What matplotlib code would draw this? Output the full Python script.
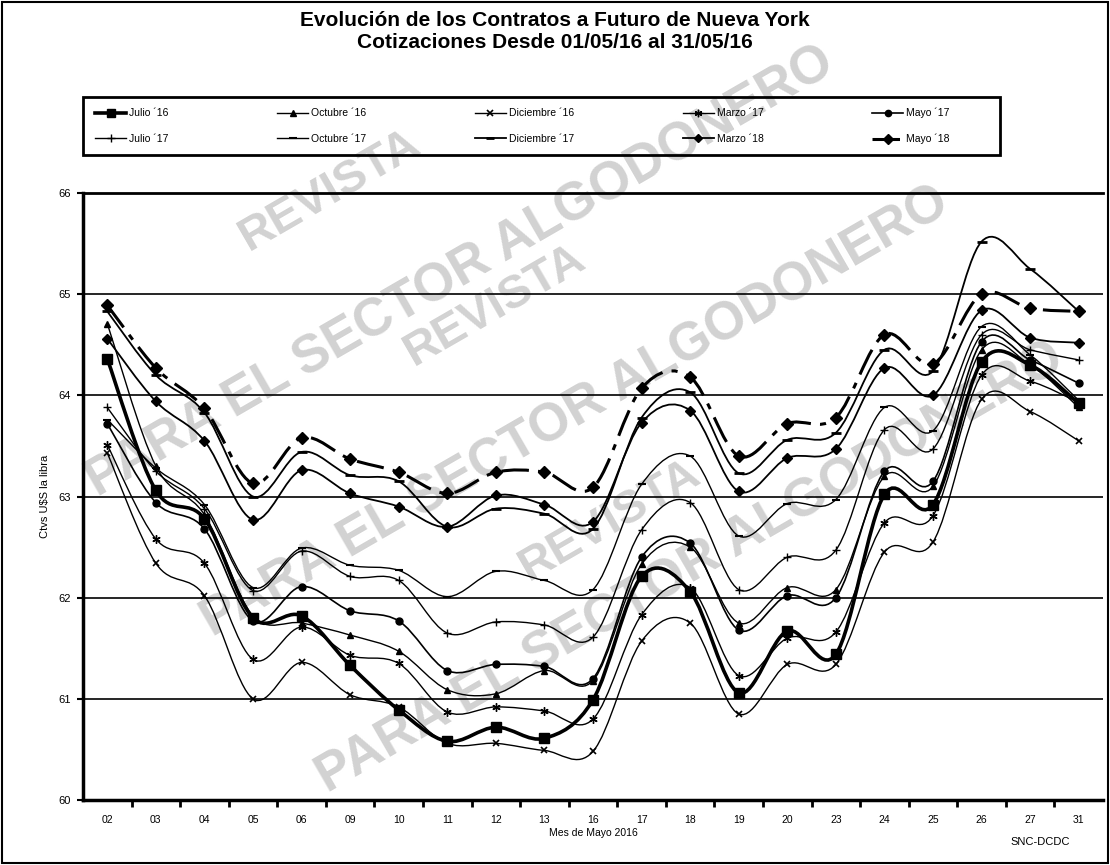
import numpy as np
import matplotlib
matplotlib.use("Agg")
import matplotlib.pyplot as plt
from matplotlib.path import Path
from matplotlib.patches import PathPatch, Rectangle
from matplotlib.lines import Line2D

plt.rcParams['font.family'] = ['Liberation Sans', 'DejaVu Sans']

# dias de rueda de mayo 2016
dias = ["02", "03", "04", "05", "06", "09", "10", "11", "12", "13", "16",
        "17", "18", "19", "20", "23", "24", "25", "26", "27", "31"]

# cotizaciones (ctvs U$S / libra)
julio_16 = [64.36, 63.06, 62.78, 61.80, 61.82, 61.33, 60.89, 60.58, 60.72, 60.61, 60.99,
            62.21, 62.06, 61.06, 61.67, 61.44, 63.02, 62.92, 64.33, 64.30, 63.92]
octubre_16 = [64.71, 63.30, 62.82, 61.82, 61.75, 61.63, 61.47, 61.09, 61.05, 61.28, 61.18,
              62.33, 62.50, 61.75, 62.10, 62.08, 63.20, 63.10, 64.45, 64.30, 63.88]
diciembre_16 = [63.43, 62.34, 62.02, 61.00, 61.36, 61.04, 60.92, 60.56, 60.56, 60.49, 60.48,
                61.57, 61.75, 60.85, 61.34, 61.34, 62.45, 62.55, 63.96, 63.84, 63.55]
marzo_17 = [63.51, 62.58, 62.34, 61.39, 61.71, 61.43, 61.35, 60.87, 60.92, 60.88, 60.80,
            61.83, 62.10, 61.23, 61.60, 61.66, 62.74, 62.81, 64.20, 64.14, 63.93]
mayo_17 = [63.72, 62.94, 62.68, 61.77, 62.11, 61.87, 61.77, 61.28, 61.34, 61.32, 61.20,
           62.40, 62.54, 61.68, 62.02, 62.00, 63.25, 63.15, 64.53, 64.35, 64.12]
julio_17 = [63.88, 63.25, 62.88, 62.07, 62.46, 62.21, 62.17, 61.65, 61.76, 61.73, 61.61,
            62.67, 62.94, 62.08, 62.40, 62.47, 63.66, 63.47, 64.60, 64.45, 64.35]
octubre_17 = [63.76, 63.28, 62.92, 62.10, 62.49, 62.32, 62.27, 62.01, 62.26, 62.17, 62.08,
              63.12, 63.40, 62.61, 62.93, 62.97, 63.88, 63.65, 64.68, 64.40, 63.95]
diciembre_17 = [64.83, 64.20, 63.83, 63.00, 63.44, 63.21, 63.15, 62.70, 62.88, 62.83, 62.68,
                63.78, 64.03, 63.23, 63.56, 63.63, 64.45, 64.24, 65.52, 65.25, 64.83]
marzo_18 = [64.56, 63.94, 63.55, 62.77, 63.26, 63.03, 62.90, 62.70, 63.01, 62.92, 62.75,
            63.73, 63.85, 63.05, 63.38, 63.47, 64.27, 64.00, 64.84, 64.57, 64.52]
mayo_18 = [64.89, 64.27, 63.87, 63.13, 63.58, 63.37, 63.24, 63.03, 63.24, 63.24, 63.09,
           64.07, 64.18, 63.40, 63.72, 63.78, 64.60, 64.31, 65.00, 64.86, 64.83]

series = [
    ("Julio ´16", julio_16, dict(lw=2.6, marker='s', ms=7)),
    ("Octubre ´16", octubre_16, dict(lw=1.0, marker='^', ms=5)),
    ("Diciembre ´16", diciembre_16, dict(lw=1.0, marker='x', ms=5, mew=1.2)),
    ("Marzo ´17", marzo_17, dict(lw=1.0, marker=(6, 2, 0), ms=6, mew=1.0)),
    ("Mayo ´17", mayo_17, dict(lw=1.2, marker='o', ms=5)),
    ("Julio ´17", julio_17, dict(lw=1.0, marker='+', ms=6, mew=1.0)),
    ("Octubre ´17", octubre_17, dict(lw=1.0, marker='_', ms=6, mew=1.5)),
    ("Diciembre ´17", diciembre_17, dict(lw=1.3, marker='_', ms=7, mew=2.0)),
    ("Marzo ´18", marzo_18, dict(lw=1.3, marker='D', ms=5)),
    ("Mayo ´18", mayo_18, dict(lw=2.2, marker='D', ms=6, ls=(0, (9, 3, 2, 3)))),
]


def curva_suave(xs, ys):
    # curva bezier estilo "linea suavizada" de Excel
    pts = np.column_stack([xs, ys]).astype(float)
    n = len(pts)
    verts = [pts[0]]
    codes = [Path.MOVETO]
    for i in range(n - 1):
        p0 = pts[i - 1] if i > 0 else pts[i]
        p1 = pts[i]
        p2 = pts[i + 1]
        p3 = pts[i + 2] if i + 2 < n else pts[i + 1]
        verts += [p1 + (p2 - p0) / 6, p2 - (p3 - p1) / 6, p2]
        codes += [Path.CURVE4] * 3
    return Path(verts, codes)


W, H = 1110, 865
fig = plt.figure(figsize=(W / 100, H / 100), dpi=100)
ax = fig.add_axes([83 / W, 65 / H, 1020 / W, 607 / H])
ax.set_facecolor('none')

# marca de agua
marcas = [
    ("REVISTA", 330, 190, 34),
    ("PARA EL SECTOR ALGODONERO", 460, 272, 38),
    ("REVISTA", 495, 305, 34),
    ("PARA EL SECTOR ALGODONERO", 575, 412, 38),
    ("REVISTA", 610, 520, 34),
    ("PARA EL SECTOR ALGODONERO", 690, 568, 38),
]
for txt, px, py, fs in marcas:
    fig.text(px / W, 1 - py / H, txt, rotation=30, ha='center', va='center',
             fontsize=fs, fontweight='bold', color='#d2d2d2', zorder=-1)

x = np.arange(len(dias))
handles = []
for nombre, valores, st in series:
    ls = st.get('ls', '-')
    patch = PathPatch(curva_suave(x, valores), fill=False, edgecolor='black',
                      lw=st['lw'], linestyle=ls, zorder=3, capstyle='butt')
    ax.add_patch(patch)
    ax.plot(x, valores, linestyle='none', marker=st['marker'], ms=st['ms'],
            color='black', mew=st.get('mew', 1.0), zorder=4)
    handles.append(Line2D([], [], color='black', lw=st['lw'], linestyle=ls,
                          marker=st['marker'], ms=st['ms'] * 0.9, mew=st.get('mew', 1.0)))

ax.set_xlim(-0.5, len(dias) - 0.5)
ax.set_ylim(60, 66)
ax.set_yticks(range(60, 67))
ax.set_xticks(x)
ax.set_xticklabels(dias)
ax.set_xticks(np.arange(0.5, len(dias) - 1, 1), minor=True)
ax.tick_params(axis='x', which='major', length=0, pad=11, labelsize=7.5)
ax.tick_params(axis='x', which='minor', length=5, width=2, direction='out')
ax.tick_params(axis='y', length=4, width=1.5, direction='out', labelsize=8, pad=5)
ax.grid(axis='y', color='black', lw=1.2)
ax.set_axisbelow(True)

ax.spines['right'].set_visible(False)
ax.spines['top'].set_linewidth(2)
ax.spines['left'].set_linewidth(2.5)
ax.spines['bottom'].set_linewidth(2.5)

ax.set_ylabel("Ctvs U\\$S la libra", fontsize=8, labelpad=6)
ax.set_xlabel("Mes de Mayo 2016", fontsize=7.5, labelpad=2)

fig.text(555 / W, 1 - 21 / H, "Evolución de los Contratos a Futuro de Nueva York",
         ha='center', va='center', fontsize=15, fontweight='bold')
fig.text(555 / W, 1 - 43 / H, "Cotizaciones Desde 01/05/16 al 31/05/16",
         ha='center', va='center', fontsize=15, fontweight='bold')
fig.text(1040 / W, 1 - 842 / H, "SNC-DCDC", ha='center', va='center', fontsize=8)

# leyenda: 2 filas x 5 columnas (orden por columnas)
orden = [0, 5, 1, 6, 2, 7, 3, 8, 4, 9]
leg = fig.legend([handles[i] for i in orden], [series[i][0] for i in orden],
                 loc='center left', bbox_to_anchor=(95 / W, 1 - 126 / H, 855 / W, 0),
                 mode='expand', ncol=5, fontsize=7.5, handlelength=3.0, handletextpad=0.3,
                 labelspacing=1.5, borderpad=0.0, borderaxespad=0, frameon=False)
fig.add_artist(Rectangle((83 / W, 1 - 155 / H), 917 / W, 58 / H, transform=fig.transFigure,
                         fill=False, edgecolor='black', lw=2))

fig.add_artist(Rectangle((0.002, 0.002), 0.996, 0.996, transform=fig.transFigure,
                         fill=False, edgecolor='black', lw=1.5))

fig.savefig("out.png", dpi=100)
